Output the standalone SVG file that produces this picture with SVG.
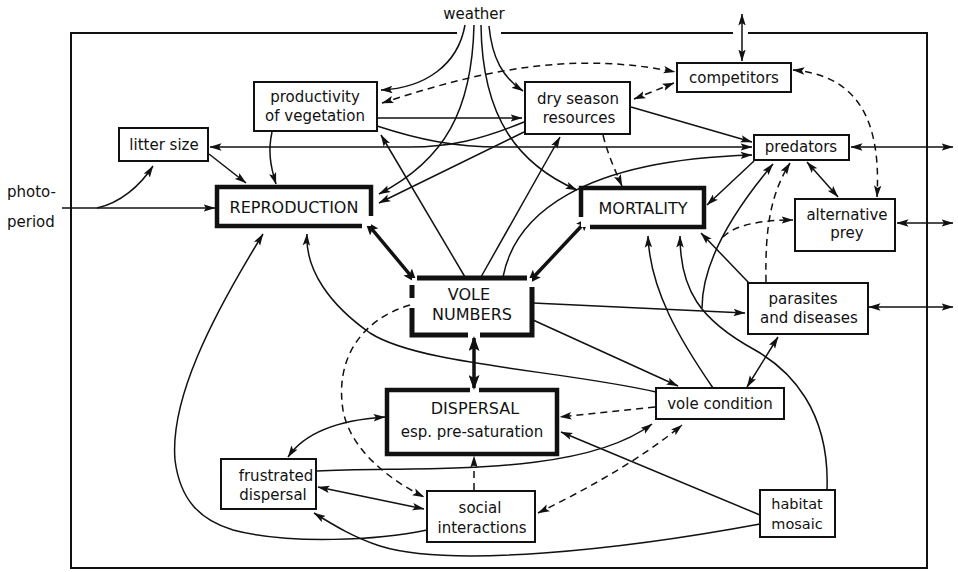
<svg xmlns="http://www.w3.org/2000/svg" width="958" height="572" viewBox="0 0 958 572">
<style>
  .t{font-family:"DejaVu Sans","Liberation Sans",sans-serif;font-size:15px;fill:#111;text-anchor:middle}
  .T{font-family:"DejaVu Sans","Liberation Sans",sans-serif;font-size:16px;fill:#111;text-anchor:middle}
  .box{fill:#fff;stroke:#111;stroke-width:2}
  .thick{fill:none;stroke:#111;stroke-width:4.5;stroke-linejoin:miter}
  .c{fill:none;stroke:#111;stroke-width:1.5}
  .d{fill:none;stroke:#111;stroke-width:1.5;stroke-dasharray:7 5}
  .b{fill:none;stroke:#111;stroke-width:3.5}
  .e{marker-end:url(#ah)}
  .s{marker-start:url(#ah)}
  .be{marker-end:url(#ahb);marker-start:url(#ahb)}
</style>
<defs>
  <marker id="ah" viewBox="0 0 12 8" refX="11.5" refY="4" markerWidth="12" markerHeight="8" markerUnits="userSpaceOnUse" orient="auto-start-reverse">
    <path d="M0,0.3 L12,4 L0,7.7 L2.5,4 Z" fill="#111"/>
  </marker>
  <marker id="ahb" viewBox="0 0 15 11" refX="13" refY="5.5" markerWidth="15" markerHeight="11" markerUnits="userSpaceOnUse" orient="auto-start-reverse">
    <path d="M0,0 L15,5.5 L0,11 L3,5.5 Z" fill="#111"/>
  </marker>
</defs>
<rect width="958" height="572" fill="#fff"/>

<g id="frame">
  <path d="M457,33 L71,33 L71,568 L927,568 L927,33 L748,33 M733,33 L501,33" fill="none" stroke="#111" stroke-width="2"/>
</g>

<g id="connectors">
  <path class="c e" d="M465,25 C458,65 425,88 381,90"/>
  <path class="d e s" d="M382,103 C460,78 560,48 675,72"/>
  <path class="c e" d="M489,26 C492,58 503,78 523,91"/>
  <path class="c e" d="M474,25 C472,110 445,160 379,194"/>
  <path class="c e" d="M481,25 C482,120 520,165 577,190"/>
  <path class="c e" d="M377,118 L522,118"/>
  <path class="c e" d="M524,122 C480,140 450,147 410,147 L210,147"/>
  <path class="c e" d="M377,126 C420,140 455,147 500,147 L752,147"/>
  <path class="c e" d="M524,132 L379,203"/>
  <path class="c e" d="M465,277 L381,135"/>
  <path class="c e" d="M481,277 L560,137"/>
  <path class="c e" d="M503,277 C515,215 580,160 752,155"/>
  <path class="c e" d="M631,107 L752,142"/>
  <path class="d e" d="M603,135 C608,155 615,170 622,186"/>
  <path class="d e s" d="M634,99 L674,83"/>
  <path class="d e s" d="M793,70 C850,75 882,110 877,197"/>
  <path class="c e s" d="M742,14 L742,61"/>
  <path class="c e s" d="M851,147 L953,147"/>
  <path class="c e s" d="M897,223 L953,223"/>
  <path class="c e s" d="M869,307 L953,307"/>
  <path class="c e s" d="M807,162 L838,197"/>
  <path class="c e" d="M754,161 L707,205"/>
  <path class="c e" d="M749,283 L701,233"/>
  <path class="d e" d="M766,282 C765,230 770,195 790,163"/>
  <path class="c e" d="M713,388 C680,340 650,290 648,236"/>
  <path class="c e" d="M827,490 C830,410 790,370 755,350 C700,320 680,290 680,236"/>
  <path class="c e" d="M702,308 C702,265 730,215 773,164"/>
  <path class="d e" d="M723,237 C735,225 760,220 793,220"/>
  <path class="c e" d="M533,303 L745,313"/>
  <path class="c e" d="M533,320 L678,386"/>
  <path class="c e s" d="M778,337 L747,387"/>
  <path class="c e" d="M656,392 C560,370 420,365 370,333 C330,305 305,270 307,234"/>
  <path class="c e" d="M427,530 C380,540 290,545 233,530 C200,520 180,500 175,460 C170,400 210,320 263,234"/>
  <path class="c e" d="M760,524 C620,550 450,568 380,546 C355,538 335,526 314,513"/>
  <path class="c e" d="M760,515 L561,432"/>
  <path class="d e" d="M655,407 L560,417"/>
  <path class="c e" d="M317,471 C420,466 580,478 652,424"/>
  <path class="d e s" d="M538,513 C585,490 640,460 682,425"/>
  <path class="d e" d="M474,490 L474,456"/>
  <path class="b be" d="M474,338 L474,388"/>
  <path class="d e" d="M410,305 C360,320 335,360 343,410 C350,450 390,480 424,497"/>
  <path class="c e s" d="M318,487 L424,509"/>
  <path class="c e s" d="M385,417 C340,420 305,432 288,457"/>
  <path class="c e" d="M209,154 L246,183"/>
  <path class="c e" d="M62,208 L215,208"/>
  <path class="c e" d="M97,208 C120,203 140,186 153,166"/>
  <path class="b be" d="M366,222 L416,282"/>
  <path class="b be" d="M528,283 L589,218"/>
  <path class="c e" d="M272,132 C268,150 270,165 276,184"/>
</g>

<g id="weather"><text class="t" x="474" y="19">weather</text></g>
<g id="photoperiod">
  <text class="t" x="7" y="197" style="text-anchor:start">photo-</text>
  <text class="t" x="7" y="227" style="text-anchor:start">period</text>
</g>
<g id="productivity">
  <rect class="box" x="254" y="82" width="123" height="49"/>
  <text class="t" x="315" y="102">productivity</text>
  <text class="t" x="315" y="121">of vegetation</text>
</g>
<g id="litter">
  <rect class="box" x="119" y="128" width="89" height="33"/>
  <text class="t" x="164" y="150">litter size</text>
</g>
<g id="dryseason">
  <rect class="box" x="525" y="82" width="105" height="52"/>
  <text class="t" x="578" y="104">dry season</text>
  <text class="t" x="579" y="123">resources</text>
</g>
<g id="competitors">
  <rect class="box" x="677" y="63" width="114" height="29"/>
  <text class="t" x="734" y="83">competitors</text>
</g>
<g id="predators">
  <rect class="box" x="754" y="135" width="95" height="25"/>
  <text class="t" x="801" y="152">predators</text>
</g>
<g id="reproduction">
  <rect x="217" y="187" width="154" height="39" fill="#fff"/>
  <path class="thick" d="M362,226 L217,226 L217,187 L371,187 L371,216"/>
  <text class="T" x="294" y="213">REPRODUCTION</text>
</g>
<g id="mortality">
  <rect x="581" y="188" width="123" height="39" fill="#fff"/>
  <path class="thick" d="M581,217 L581,188 L704,188 L704,227 L590,227"/>
  <text class="T" x="643" y="214">MORTALITY</text>
</g>
<g id="altprey">
  <rect class="box" x="795" y="199" width="100" height="52"/>
  <text class="t" x="847" y="220">alternative</text>
  <text class="t" x="847" y="238">prey</text>
</g>
<g id="volenumbers">
  <rect x="412" y="278" width="120" height="57" fill="#fff"/>
  <path class="thick" style="stroke-width:5" d="M417,278 L527,278 M412,285 L412,298 M412,308 L412,335 L468,335 M480,335 L532,335 L532,287"/>
  <text class="T" x="469" y="300">VOLE</text>
  <text class="T" x="472" y="320">NUMBERS</text>
</g>
<g id="parasites">
  <rect class="box" x="748" y="283" width="120" height="51"/>
  <text class="t" x="803" y="304">parasites</text>
  <text class="t" x="809" y="323">and diseases</text>
</g>
<g id="dispersal">
  <rect x="387" y="390" width="170" height="64" fill="#fff"/>
  <path class="thick" d="M470,390 L387,390 L387,454 L557,454 L557,390 L479,390"/>
  <text class="T" x="475" y="414">DISPERSAL</text>
  <text class="t" x="472" y="437">esp. pre-saturation</text>
</g>
<g id="volecondition">
  <rect class="box" x="656" y="388" width="128" height="31"/>
  <text class="t" x="720" y="409">vole condition</text>
</g>
<g id="frustrated">
  <rect class="box" x="221" y="459" width="95" height="50"/>
  <text class="t" x="276" y="481">frustrated</text>
  <text class="t" x="273" y="500">dispersal</text>
</g>
<g id="social">
  <rect class="box" x="427" y="491" width="108" height="51"/>
  <text class="t" x="480" y="513">social</text>
  <text class="t" x="482" y="533">interactions</text>
</g>
<g id="habitat">
  <rect class="box" x="760" y="490" width="75" height="47"/>
  <text class="t" x="797" y="509" style="font-size:14.5px">habitat</text>
  <text class="t" x="797" y="529" style="font-size:14.5px">mosaic</text>
</g>
</svg>
